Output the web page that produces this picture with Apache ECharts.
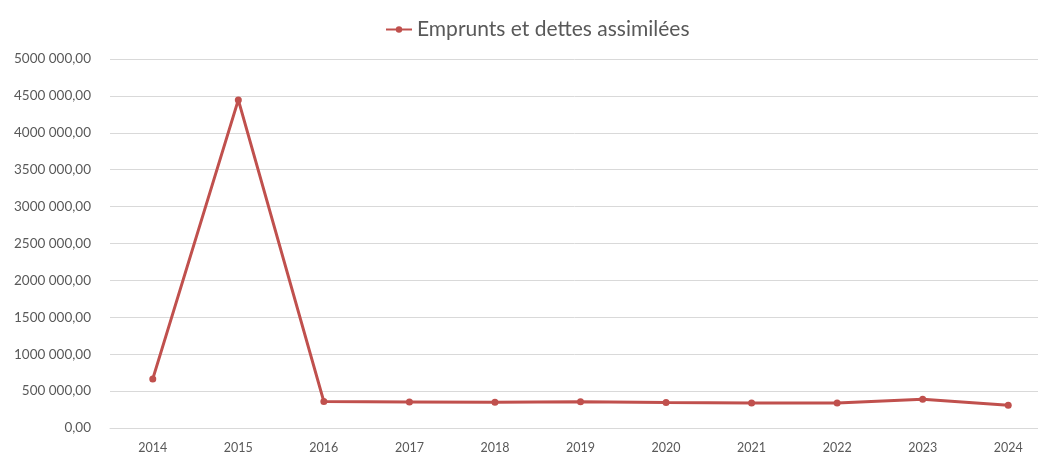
<!DOCTYPE html>
<html>
<head>
<meta charset="utf-8">
<script src="https://cdn.jsdelivr.net/npm/echarts@6/dist/echarts.min.js"></script>
<style>
html,body{margin:0;padding:0;background:#fff;}
#c{width:1038px;height:454px;}
</style>
</head>
<body>
<div id="c"></div>
<script>
const categories = ['2014','2015','2016','2017','2018','2019','2020','2021','2022','2023','2024'];
const seriesName = 'Emprunts et dettes assimilées';
const values = [665000, 4446000, 358000, 353000, 348000, 357000, 344000, 339000, 339000, 390000, 307000];

function fmt(v) {
  if (v === 0) return '0,00';
  const th = Math.floor(v / 1000);
  const rest = String(Math.round(v % 1000)).padStart(3, '0');
  return (th > 0 ? th + ' ' + rest : String(v)) + ',00';
}

const chart = echarts.init(document.getElementById('c'));
chart.setOption({
  animation: false,
  textStyle: { fontFamily: 'Lato' },
  legend: {
    top: 14,
    left: 380,
    itemWidth: 26,
    itemHeight: 8,
    itemGap: 8,
    textStyle: { fontSize: 21, color: '#595959', fontFamily: 'Lato' },
    data: [seriesName]
  },
  grid: { left: 110, top: 59, right: -13, height: 369, containLabel: false, outerBoundsMode: 'none' },
  xAxis: {
    type: 'category',
    data: categories,
    boundaryGap: true,
    axisLine: { show: true, lineStyle: { color: '#d9d9d9', width: 1 } },
    axisTick: { show: false },
    axisLabel: { color: '#595959', fontSize: 12.5, margin: 13 }
  },
  yAxis: {
    type: 'value',
    min: 0,
    max: 5000000,
    interval: 500000,
    axisLine: { show: false },
    axisTick: { show: false },
    splitLine: { lineStyle: { color: '#d9d9d9', width: 1 } },
    axisLabel: { color: '#595959', fontSize: 13.5, margin: 19, formatter: fmt }
  },
  series: [{
    name: seriesName,
    type: 'line',
    data: values,
    symbol: 'circle',
    symbolSize: 7,
    itemStyle: { color: '#C0504D' },
    lineStyle: { color: '#C0504D', width: 3 }
  }]
});
</script>
</body>
</html>
